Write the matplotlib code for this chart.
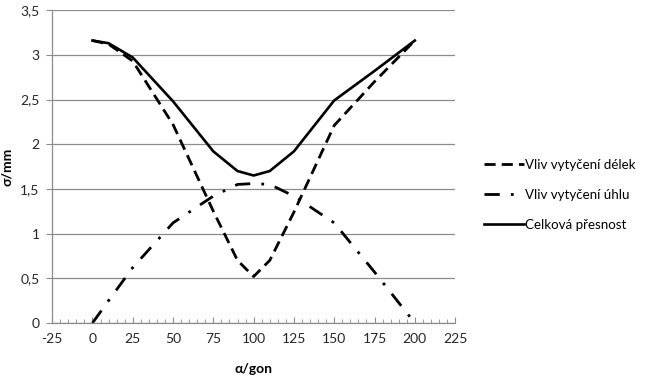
import matplotlib
matplotlib.use("Agg")
import matplotlib.pyplot as plt
from matplotlib.ticker import MultipleLocator, FuncFormatter

x = [0, 10, 25, 50, 75, 90, 100, 110, 125, 150, 175, 200]
delky = [3.16, 3.12, 2.93, 2.22, 1.25, 0.70, 0.52, 0.70, 1.24, 2.21, 2.70, 3.16]
uhel = [0.0, 0.25, 0.62, 1.12, 1.42, 1.55, 1.56, 1.55, 1.42, 1.12, 0.57, 0.0]
celkova = [3.16, 3.13, 2.97, 2.48, 1.92, 1.70, 1.65, 1.70, 1.92, 2.49, 2.82, 3.16]

labels = ["Vliv vytyčení délek", "Vliv vytyčení úhlu", "Celková přesnost"]

plt.rcParams['font.family'] = ['Lato', 'DejaVu Sans']

fig = plt.figure(figsize=(6.52, 3.76), dpi=100)
ax = fig.add_axes([0.080, 0.141, 0.618, 0.832])

ax.plot(x, delky, color='black', lw=2.0, linestyle=(0, (4, 2.2)), label=labels[0])
ax.plot(x, uhel, color='black', lw=2.0, linestyle=(0, (5.5, 4, 1, 4)), label=labels[1])
ax.plot(x, celkova, color='black', lw=1.9, linestyle='-', label=labels[2])

ax.set_xlim(-25, 225)
ax.set_ylim(0, 3.5)
ax.xaxis.set_major_locator(MultipleLocator(25))
ax.xaxis.set_minor_locator(MultipleLocator(5))
ax.yaxis.set_major_locator(MultipleLocator(0.5))
fmt = FuncFormatter(lambda v, p: (f"{v:g}").replace('.', ','))
ax.yaxis.set_major_formatter(fmt)
ax.xaxis.set_major_formatter(FuncFormatter(lambda v, p: f"{v:g}"))

ax.grid(axis='y', color='#8c8c8c', lw=0.9)
ax.set_axisbelow(True)
for s in ['top', 'right']:
    ax.spines[s].set_visible(False)
for s in ['left', 'bottom']:
    ax.spines[s].set_color('#8c8c8c')
    ax.spines[s].set_linewidth(0.9)

ax.tick_params(axis='both', labelsize=10, colors='#404040', labelcolor='#262626')
ax.tick_params(axis='x', which='major', direction='in', length=4, color='#8c8c8c', pad=7)
ax.tick_params(axis='x', which='minor', direction='in', length=3, color='#8c8c8c')
ax.tick_params(axis='y', which='major', direction='out', length=4, color='#8c8c8c', pad=5)

ax.set_xlabel("α/gon", fontsize=10, fontweight='bold', labelpad=13)
ax.set_ylabel("σ/mm", fontsize=10, fontweight='bold', labelpad=5)

fig.legend(loc='center left', bbox_to_anchor=(0.738, 0.481), frameon=False,
           fontsize=9.6, handlelength=3.0, handletextpad=0.05, labelspacing=1.35,
           borderaxespad=0, borderpad=0.2)

fig.savefig("out.png", dpi=100)
